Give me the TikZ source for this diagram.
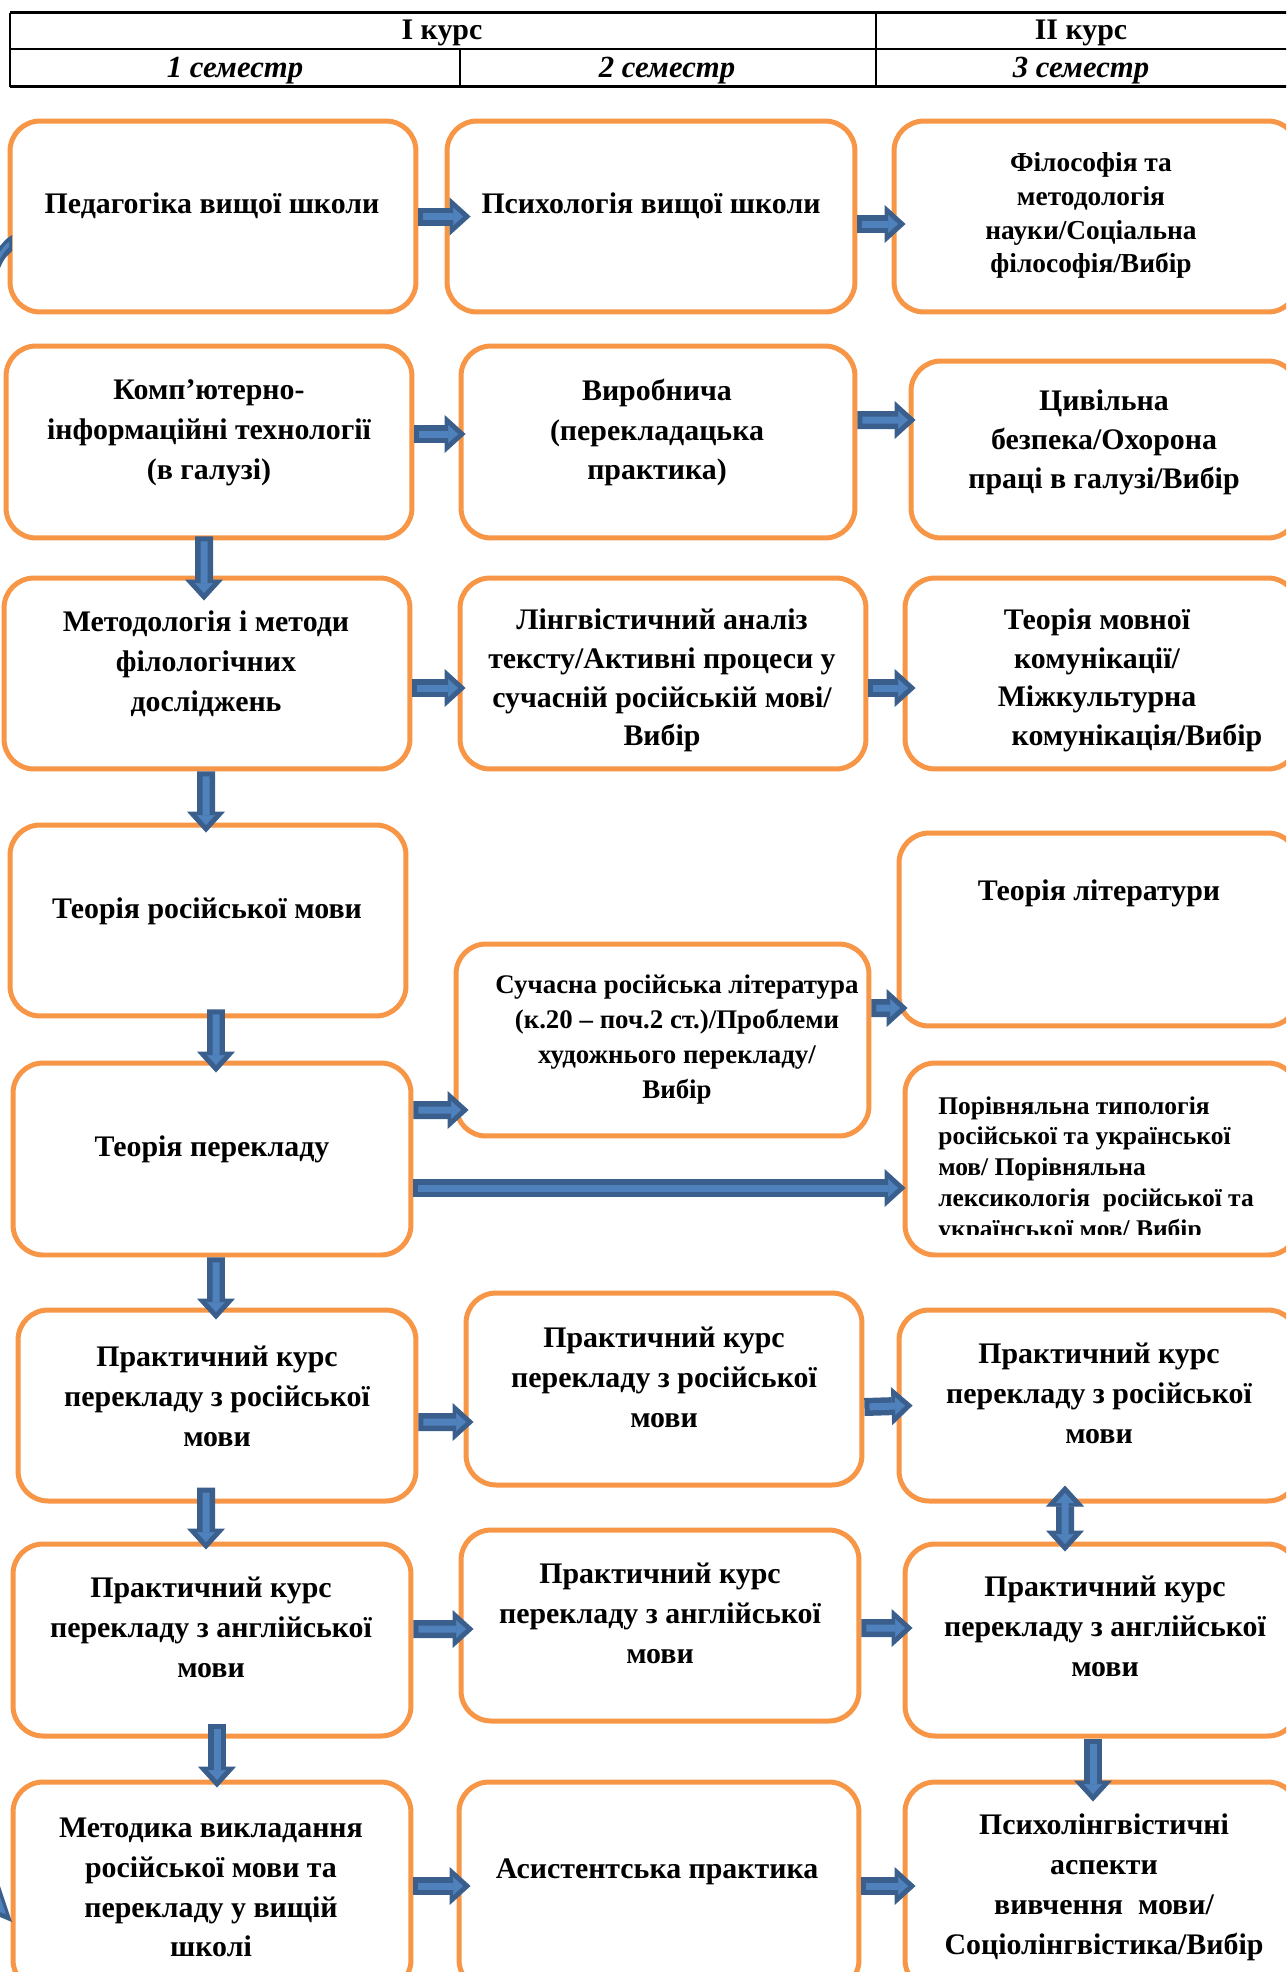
\documentclass[tikz,border=0pt]{standalone}
\usepackage{fontspec}
\setmainfont{Liberation Serif}
\usetikzlibrary{arrows.meta}

\definecolor{boxorange}{HTML}{F79646}
\definecolor{arrowdark}{HTML}{3A5F8C}
\definecolor{arrowfill}{HTML}{4F81BD}

\tikzset{
  box/.style={draw=boxorange, line width=0.1cm, rounded corners=0.6cm, fill=white},
  txt/.style={font=\bfseries\fontsize{17}{22.7}\selectfont, align=center, inner sep=0pt, yshift=-0.07cm},
  hdr/.style={font=\bfseries\fontsize{17}{20}\selectfont, inner sep=0pt},
  blkdark/.style={draw=arrowdark, line width=0.36cm,
    -{Triangle[length=0.42cm, width=0.76cm, line width=0.02cm, fill=arrowdark]}},
  blklight/.style={draw=arrowfill, line width=0.14cm, shorten <=0.1cm, shorten >=0.15cm,
    -{Triangle[length=0.2cm, width=0.36cm, line width=0.01cm, fill=arrowfill]}},
  blkdarkboth/.style={draw=arrowdark, line width=0.36cm,
    {Triangle[length=0.42cm, width=0.76cm, line width=0.02cm, fill=arrowdark]}-{Triangle[length=0.42cm, width=0.76cm, line width=0.02cm, fill=arrowdark]}},
  blklightboth/.style={draw=arrowfill, line width=0.14cm, shorten <=0.15cm, shorten >=0.15cm,
    {Triangle[length=0.2cm, width=0.36cm, line width=0.01cm, fill=arrowfill]}-{Triangle[length=0.2cm, width=0.36cm, line width=0.01cm, fill=arrowfill]}},
}

% block arrow: dark body, lighter core
\newcommand{\blk}[2]{%
  \draw[blkdark] #1 -- #2;
  \draw[blklight] #1 -- #2;}
\newcommand{\blkboth}[2]{%
  \draw[blkdarkboth] #1 -- #2;
  \draw[blklightboth] #1 -- #2;}

\begin{document}
\begin{tikzpicture}[x=0.02cm, y=-0.02cm]
\useasboundingbox (0,0) rectangle (1286,1972);
\clip (0,0) rectangle (1286,1972);

% header table
\draw[line width=0.05cm] (10,12.6) -- (1300,12.6);
\draw[line width=0.025cm] (10,49) -- (1300,49);
\draw[line width=0.05cm] (10,86.7) -- (1300,86.7);
\draw[line width=0.025cm] (10,12.6) -- (10,86.7) (876,12.6) -- (876,86.7) (460,49) -- (460,86.7);
\node[hdr] (kurs1) at (442,33) {І курс};
\node[hdr] (kurs2) at (1081,33) {ІІ курс};
\node[hdr, font=\bfseries\itshape\fontsize{17.5}{20}\selectfont] (sem1) at (235,71) {1 семестр};
\node[hdr, font=\bfseries\itshape\fontsize{17.5}{20}\selectfont] (sem2) at (667,71) {2 семестр};
\node[hdr, font=\bfseries\itshape\fontsize{17.5}{20}\selectfont] (sem3) at (1081,71) {3 семестр};

% boxes, row by row
\node[box, minimum width=8.12cm, minimum height=3.82cm] (ped) at (213,216.5) {};
\node[box, minimum width=8.16cm, minimum height=3.82cm] (psy) at (651,216.5) {};
\node[box, minimum width=8.08cm, minimum height=3.82cm] (phil) at (1096,216.5) {};

\node[box, minimum width=8.12cm, minimum height=3.84cm] (comp) at (209,442) {};
\node[box, minimum width=7.88cm, minimum height=3.84cm] (prac) at (658,442) {};
\node[box, minimum width=7.74cm, minimum height=3.54cm] (civ) at (1104.5,449.5) {};

\node[box, minimum width=8.12cm, minimum height=3.82cm] (meth) at (207,673.5) {};
\node[box, minimum width=8.12cm, minimum height=3.82cm] (ling) at (663,673.5) {};
\node[box, minimum width=7.86cm, minimum height=3.82cm] (comm) at (1101.5,673.5) {};

\node[box, minimum width=7.92cm, minimum height=3.82cm] (trus) at (208,920.5) {};
\node[box, minimum width=7.98cm, minimum height=3.86cm] (tlit) at (1098.5,929.5) {};
\node[box, minimum width=8.26cm, minimum height=3.84cm] (slit) at (662.5,1040) {};

\node[box, minimum width=7.96cm, minimum height=3.84cm] (ttr) at (212,1159) {};
\node[box, minimum width=7.86cm, minimum height=3.84cm] (typ) at (1101.5,1159) {};

\node[box, minimum width=7.96cm, minimum height=3.82cm] (pr1) at (217,1405.5) {};
\node[box, minimum width=7.92cm, minimum height=3.84cm] (pr2) at (664,1389) {};
\node[box, minimum width=7.98cm, minimum height=3.82cm] (pr3) at (1098.5,1405.5) {};

\node[box, minimum width=7.96cm, minimum height=3.84cm] (en1) at (212,1640) {};
\node[box, minimum width=7.96cm, minimum height=3.82cm] (en2) at (660,1625.5) {};
\node[box, minimum width=7.86cm, minimum height=3.84cm] (en3) at (1101.5,1640) {};

\node[box, minimum width=7.96cm, minimum height=4.16cm] (mth) at (212,1886) {};
\node[box, minimum width=8cm, minimum height=4.16cm] (asst) at (659,1886) {};
\node[box, minimum width=7.86cm, minimum height=4.16cm] (psyl) at (1101.5,1886) {};

% texts
\node[txt] (pedt) at (212,202) {Педагогіка вищої школи};
\node[txt] (psyt) at (651,202) {Психологія вищої школи};
\node[txt, font=\bfseries\fontsize{15.6}{19.3}\selectfont] (philt) at (1091,212)
  {Філософія та\\методологія\\науки/Соціальна\\філософія/Вибір};
\node[txt] (compt) at (209,429) {Комп’ютерно-\\інформаційні технології\\(в галузі)};
\node[txt] (pract) at (657,429) {Виробнича\\(перекладацька\\практика)};
\node[txt, font=\bfseries\fontsize{17}{22}\selectfont] (civt) at (1104,439)
  {Цивільна\\безпека/Охорона\\праці в галузі/Вибір};
\node[txt] (metht) at (206,660) {Методологія і методи\\філологічних\\досліджень};
\node[txt, font=\bfseries\fontsize{17}{22}\selectfont] (lingt) at (662,677)
  {Лінгвістичний аналіз\\тексту/Активні процеси у\\сучасній російській мові/\\Вибір};
\node[txt, font=\bfseries\fontsize{17}{22}\selectfont] (commt) at (1097,677)
  {Теорія мовної\\комунікації/\\Міжкультурна\\\hspace*{1.6cm}комунікація/Вибір};
\node[txt] (trust) at (207,908) {Теорія російської мови};
\node[txt] (tlitt) at (1099,890) {Теорія літератури};
\node[txt, font=\bfseries\fontsize{15.3}{20}\selectfont] (slitt) at (677,1036)
  {Сучасна російська література\\(к.20 – поч.2 ст.)/Проблеми\\художнього перекладу/\\Вибір};
\node[txt] (ttrt) at (212,1146) {Теорія перекладу};
\begin{scope}
\clip (905,1063) rectangle (1298,1234);
\node[txt, align=left, anchor=west, font=\bfseries\fontsize{14.5}{17.5}\selectfont] (typt) at (938,1166)
  {Порівняльна типологія\\російської та української\\мов/ Порівняльна\\лексикологія\ \ російської та\\української мов/ Вибір};
\end{scope}
\node[txt] (pr1t) at (217,1393) {Практичний курс\\перекладу з російської\\мови};
\node[txt] (pr2t) at (664,1374) {Практичний курс\\перекладу з російської\\мови};
\node[txt] (pr3t) at (1099,1390) {Практичний курс\\перекладу з російської\\мови};
\node[txt] (en1t) at (211,1624) {Практичний курс\\перекладу з англійської\\мови};
\node[txt] (en2t) at (660,1610) {Практичний курс\\перекладу з англійської\\мови};
\node[txt] (en3t) at (1105,1623) {Практичний курс\\перекладу з англійської\\мови};
\node[txt] (mtht) at (211,1884) {Методика викладання\\російської мови та\\перекладу у вищій\\школі};
\node[txt] (asstt) at (657,1868) {Асистентська практика};
\node[txt] (psylt) at (1104,1884) {Психолінгвістичні\\аспекти\\вивчення\ \ мови/\\Соціолінгвістика/Вибір};

% horizontal arrows
\blk{(ped.east)}{([xshift=0.52cm]psy.west)}
\blk{([yshift=-0.15cm]psy.east)}{([xshift=0.28cm,yshift=-0.15cm]phil.west)}
\blk{([yshift=0.16cm]comp.east)}{([xshift=0.14cm,yshift=0.16cm]prac.west)}
\blk{([yshift=0.44cm]prac.east)}{([xshift=0.14cm,yshift=0.59cm]civ.west)}
\blk{([yshift=-0.29cm]meth.east)}{([xshift=0.16cm,yshift=-0.29cm]ling.west)}
\blk{([yshift=-0.29cm]ling.east)}{([xshift=0.26cm,yshift=-0.29cm]comm.west)}
\blk{([yshift=0.98cm]ttr.east)}{([xshift=0.3cm,yshift=-1.4cm]slit.west)}
\blk{([yshift=0.64cm]slit.east)}{([xshift=0.22cm,yshift=-1.57cm]tlit.west)}
\blk{([yshift=-0.58cm]ttr.east)}{([xshift=0.06cm,yshift=-0.58cm]typ.west)}
\blk{([yshift=-0.33cm]pr1.east)}{([xshift=0.2cm,yshift=-0.66cm]pr2.west)}
\blk{([yshift=-0.36cm]pr2.east)}{([xshift=0.32cm]pr3.west)}
\blk{([yshift=0.22cm]en1.east)}{([xshift=0.3cm,yshift=-0.07cm]en2.west)}
\blk{([yshift=-0.05cm]en2.east)}{([xshift=0.2cm,yshift=0.24cm]en3.west)}
\blk{(mth.east)}{([xshift=0.28cm]asst.west)}
\blk{(asst.east)}{([xshift=0.26cm]psyl.west)}

% vertical arrows
\blk{([xshift=-0.1cm,yshift=0.08cm]comp.south)}{([xshift=-0.06cm,yshift=-0.5cm]meth.north)}
\blk{([xshift=-0.02cm]meth.south)}{([xshift=-0.04cm,yshift=-0.2cm]trus.north)}
\blk{([xshift=0.16cm,yshift=0.18cm]trus.south)}{([xshift=0.08cm,yshift=-0.24cm]ttr.north)}
\blk{([xshift=0.08cm]ttr.south)}{([xshift=-0.02cm,yshift=-0.24cm]pr1.north)}
\blk{([xshift=-0.22cm,yshift=0.32cm]pr1.south)}{([xshift=-0.12cm,yshift=-0.16cm]en1.north)}
\blk{([xshift=0.1cm,yshift=0.3cm]en1.south)}{([xshift=0.1cm,yshift=-0.16cm]mth.north)}
\blkboth{([xshift=-0.67cm,yshift=0.36cm]pr3.south)}{([xshift=-0.73cm,yshift=-0.2cm]en3.north)}
\blk{([xshift=-0.17cm]en3.south)}{([xshift=-0.17cm,yshift=-0.44cm]psyl.north)}

% pieces of arrows coming from the left edge
\fill[arrowdark] (0,268) .. controls (4,259) .. (12,251) -- (12,235) .. controls (6,239) .. (0,246) -- cycle;
\fill[arrowfill] (0,259) .. controls (4,252) .. (9,247) -- (9,242) .. controls (5,245) .. (0,252) -- cycle;
\fill[arrowdark] (0,1886) -- (12,1922) -- (0,1917) -- cycle;
\fill[arrowfill] (0,1897) -- (6,1914) -- (0,1912) -- cycle;
\end{tikzpicture}
\end{document}
